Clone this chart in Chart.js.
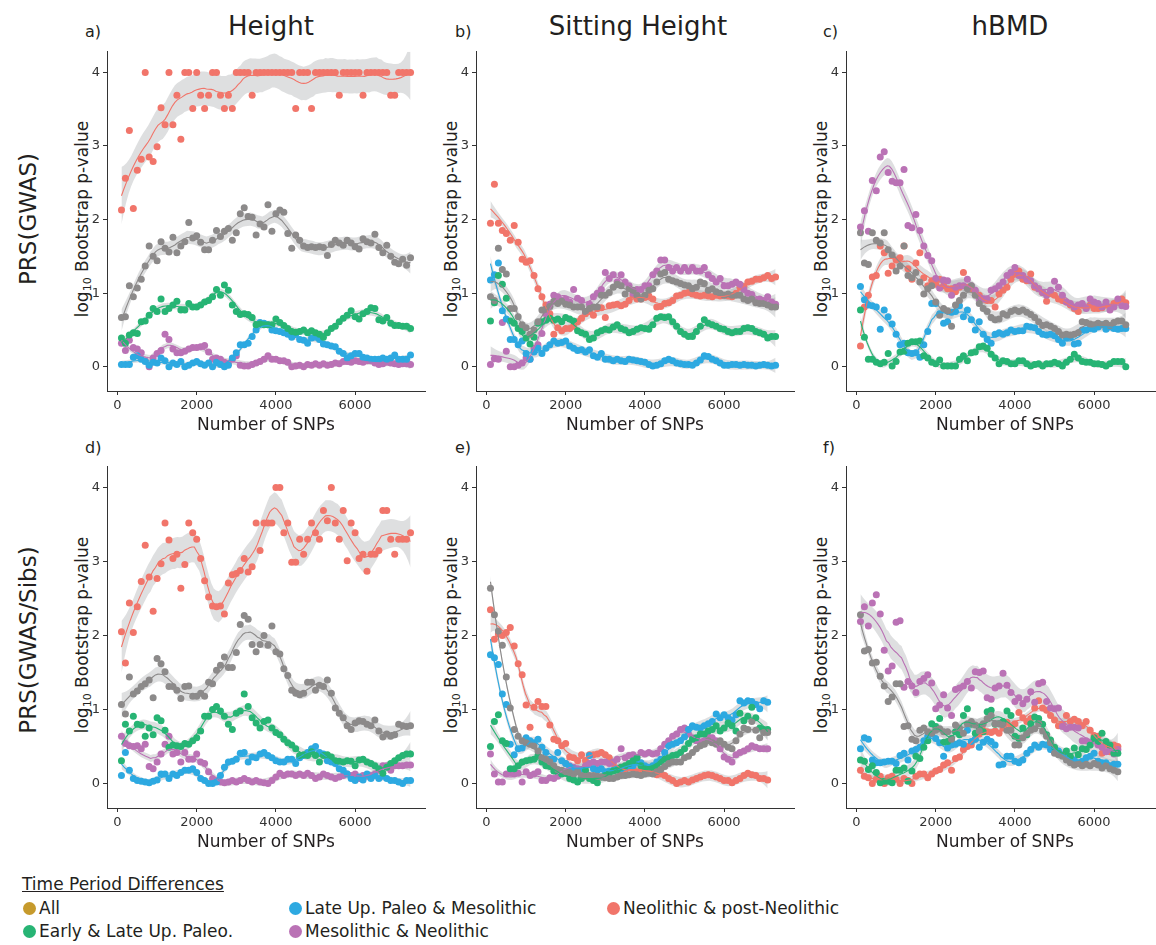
<!DOCTYPE html>
<html>
<head>
<meta charset="utf-8">
<script src="https://cdn.jsdelivr.net/npm/chart.js@4.4.1/dist/chart.umd.min.js"></script>
<style>
body{margin:0;width:1156px;height:945px;overflow:hidden;background:#fff;position:relative;
  font-family:"DejaVu Sans",sans-serif;color:#231f20}
canvas{position:absolute}
.t{position:absolute;white-space:nowrap}
.rot{transform:rotate(-90deg);text-align:center}
.ytitle{width:260px;height:22px;line-height:22px;font-size:17px}
.ytitle sub{font-size:11px;vertical-align:-3px}
.row{width:300px;height:30px;line-height:30px;font-size:23px}
.ptitle{width:240px;text-align:center;font-size:26px;top:11px;line-height:30px}
.letter{font-size:16px;line-height:19px}
.dot{position:absolute;width:13px;height:13px;border-radius:50%}
.leg{position:absolute;font-size:17px;line-height:20px;white-space:nowrap}
</style>
</head>
<body>
<div class="t ptitle" style="left:151px">Height</div>
<div class="t ptitle" style="left:518px">Sitting Height</div>
<div class="t ptitle" style="left:890px">hBMD</div>

<div class="t rot row" style="left:-122px;top:204px">PRS(GWAS)</div>
<div class="t rot row" style="left:-122px;top:625px">PRS(GWAS/Sibs)</div>

<div class="t letter" style="left:85px;top:22px">a)</div>
<div class="t letter" style="left:455px;top:22px">b)</div>
<div class="t letter" style="left:823px;top:22px">c)</div>
<div class="t letter" style="left:85px;top:438px">d)</div>
<div class="t letter" style="left:455px;top:438px">e)</div>
<div class="t letter" style="left:823px;top:438px">f)</div>

<div class="t rot ytitle" style="left:-48px;top:208px">log<sub>10</sub> Bootstrap p-value</div>
<div class="t rot ytitle" style="left:321px;top:208px">log<sub>10</sub> Bootstrap p-value</div>
<div class="t rot ytitle" style="left:691px;top:208px">log<sub>10</sub> Bootstrap p-value</div>
<div class="t rot ytitle" style="left:-48px;top:624px">log<sub>10</sub> Bootstrap p-value</div>
<div class="t rot ytitle" style="left:321px;top:624px">log<sub>10</sub> Bootstrap p-value</div>
<div class="t rot ytitle" style="left:691px;top:624px">log<sub>10</sub> Bootstrap p-value</div>

<canvas id="pa"></canvas><canvas id="pb"></canvas><canvas id="pc"></canvas>
<canvas id="pd"></canvas><canvas id="pe"></canvas><canvas id="pf"></canvas>

<div class="leg" style="left:22px;top:874px;text-decoration:underline">Time Period Differences</div>
<div id="legend"></div>

<script>
// number of SNPs on the x axis
const snps = [
  100,200,300,400,500,600,700,800,900,1000,
  1100,1200,1300,1400,1500,1600,1700,1800,1900,2000,
  2100,2200,2300,2400,2500,2600,2700,2800,2900,3000,
  3100,3200,3300,3400,3500,3600,3700,3800,3900,4000,
  4100,4200,4300,4400,4500,4600,4700,4800,4900,5000,
  5100,5200,5300,5400,5500,5600,5700,5800,5900,6000,
  6100,6200,6300,6400,6500,6600,6700,6800,6900,7000,
  7100,7200,7300,7400
];
const xTicks = [0, 2000, 4000, 6000];
const yTicks = [0, 1, 2, 3, 4];

const groups = ["All", "Early & Late Up. Paleo.", "Late Up. Paleo & Mesolithic", "Mesolithic & Neolithic", "Neolithic & post-Neolithic"];

// a) Height, PRS(GWAS)
const heightAll = [
  0.67,0.68,1.10,0.95,1.07,1.19,1.37,1.64,1.50,1.44,
  1.70,1.61,1.56,1.76,1.55,1.64,1.70,1.96,1.75,1.78,
  1.69,1.59,1.59,1.72,1.85,1.77,1.84,1.88,1.72,1.82,
  2.08,2.16,2.04,2.03,1.79,1.94,1.90,2.20,1.84,2.08,
  2.13,2.10,1.81,1.61,1.79,1.72,1.64,1.62,1.63,1.62,
  1.63,1.62,1.51,1.66,1.72,1.68,1.65,1.72,1.68,1.63,
  1.60,1.74,1.70,1.68,1.80,1.62,1.55,1.65,1.50,1.42,
  1.40,1.46,1.38,1.48];
const heightEarly = [
  0.39,0.32,0.43,0.46,0.45,0.61,0.62,0.70,0.79,0.75,
  0.92,0.75,0.79,0.84,0.89,0.77,0.77,0.86,0.81,0.81,
  0.84,0.88,0.90,0.95,1.05,0.97,1.11,1.04,0.84,0.75,
  0.71,0.72,0.71,0.67,0.57,0.58,0.57,0.57,0.57,0.65,
  0.60,0.56,0.52,0.48,0.47,0.48,0.50,0.46,0.49,0.46,
  0.44,0.40,0.46,0.52,0.55,0.61,0.66,0.70,0.76,0.68,
  0.65,0.72,0.75,0.80,0.79,0.64,0.62,0.67,0.59,0.56,
  0.56,0.55,0.55,0.52];
const heightLate = [
  0.03,0.03,0.03,0.13,0.15,0.10,0.07,0.02,0.06,0.05,
  0.12,0.08,0.00,0.05,0.03,0.07,0.00,0.02,0.05,0.07,
  0.04,0.02,0.05,0.00,0.06,0.03,0.00,0.02,0.12,0.19,
  0.30,0.30,0.32,0.41,0.50,0.60,0.59,0.57,0.50,0.49,
  0.48,0.46,0.44,0.40,0.44,0.37,0.36,0.32,0.39,0.41,
  0.37,0.31,0.30,0.28,0.27,0.21,0.18,0.12,0.15,0.18,
  0.18,0.13,0.12,0.10,0.10,0.10,0.12,0.10,0.12,0.16,
  0.10,0.10,0.10,0.16];
const heightMeso = [
  0.32,0.22,0.36,0.26,0.24,0.19,0.08,0.00,0.12,0.18,
  0.22,0.44,0.37,0.24,0.19,0.19,0.21,0.24,0.26,0.26,
  0.27,0.29,0.20,0.10,0.12,0.10,0.06,0.04,0.10,0.15,
  0.02,0.01,0.01,0.03,0.05,0.07,0.10,0.15,0.10,0.10,
  0.08,0.08,0.06,0.00,0.01,0.02,0.00,0.03,0.02,0.04,
  0.02,0.04,0.02,0.03,0.05,0.04,0.07,0.07,0.06,0.08,
  0.07,0.06,0.08,0.08,0.05,0.03,0.04,0.06,0.05,0.04,
  0.03,0.04,0.04,0.03];
const heightNeo = [
  2.13,2.56,3.21,2.15,2.67,2.82,4.00,2.85,2.79,2.99,
  3.52,3.29,4.00,3.29,3.69,3.09,4.00,4.00,3.51,4.00,
  3.69,3.51,3.69,4.00,4.00,3.69,3.51,3.69,3.51,4.00,
  4.00,4.00,4.00,3.69,4.00,4.00,4.00,4.00,4.00,4.00,
  4.00,4.00,4.00,4.00,3.51,4.00,4.00,4.00,3.51,4.00,
  4.00,4.00,4.00,4.00,4.00,3.69,4.00,4.00,4.00,4.00,
  4.00,3.69,4.00,4.00,4.00,4.00,4.00,4.00,3.69,3.69,
  4.00,4.00,4.00,4.00];

// b) Sitting Height, PRS(GWAS)
const sittingAll = [
  0.95,0.90,1.61,1.32,1.26,0.79,0.79,0.68,0.57,0.53,
  0.44,0.50,0.61,0.77,0.78,0.82,0.89,0.86,0.89,0.85,
  0.84,0.81,0.81,0.81,0.75,0.79,0.81,0.81,0.97,0.97,
  1.01,1.08,1.12,1.10,0.99,1.06,1.04,0.97,0.92,0.97,
  1.04,1.06,1.15,1.26,1.28,1.19,1.17,1.15,1.13,1.11,
  1.10,1.06,1.08,1.15,1.13,1.04,1.06,1.02,1.00,0.97,
  0.99,0.97,0.97,0.97,0.92,0.90,0.92,0.87,0.86,0.86,
  0.84,0.81,0.81];
const sittingEarly = [
  0.62,0.87,1.24,1.12,0.93,0.62,0.59,0.52,0.48,0.39,
  0.31,0.40,0.59,0.61,0.63,0.66,0.63,0.65,0.61,0.67,
  0.65,0.62,0.49,0.46,0.44,0.37,0.39,0.46,0.49,0.51,
  0.50,0.54,0.57,0.52,0.50,0.46,0.48,0.51,0.53,0.52,
  0.51,0.57,0.66,0.68,0.67,0.68,0.61,0.55,0.48,0.44,
  0.41,0.41,0.48,0.55,0.64,0.59,0.57,0.55,0.52,0.51,
  0.48,0.46,0.48,0.48,0.52,0.53,0.52,0.48,0.46,0.44,
  0.39,0.41,0.41];
const sittingLate = [
  1.18,1.25,1.41,0.76,0.65,0.37,0.37,0.30,0.35,0.18,
  0.10,0.20,0.25,0.18,0.25,0.30,0.35,0.32,0.33,0.35,
  0.28,0.25,0.22,0.23,0.20,0.23,0.15,0.13,0.18,0.10,
  0.10,0.08,0.10,0.08,0.07,0.10,0.09,0.08,0.07,0.06,
  0.03,0.01,0.02,0.04,0.08,0.10,0.08,0.05,0.04,0.03,
  0.03,0.02,0.05,0.09,0.15,0.14,0.10,0.08,0.05,0.02,
  0.02,0.03,0.03,0.02,0.03,0.02,0.02,0.01,0.02,0.03,
  0.02,0.01,0.02];
const sittingMeso = [
  0.03,0.11,0.10,0.60,0.21,0.00,0.00,0.02,0.05,0.12,
  0.10,0.25,0.30,0.45,0.72,0.85,0.97,0.95,0.90,0.92,
  0.88,1.05,0.93,0.90,0.75,0.85,0.95,1.00,1.05,1.28,
  1.20,1.25,1.15,1.25,1.15,1.10,1.00,1.05,1.05,1.10,
  1.10,1.25,1.30,1.45,1.45,1.35,1.30,1.35,1.30,1.35,
  1.30,1.35,1.30,1.30,1.35,1.25,1.20,1.15,1.20,1.10,
  1.10,1.12,1.15,1.12,1.05,1.00,0.98,0.90,0.92,0.90,
  0.95,0.88,0.85];
const sittingNeo = [
  1.95,2.48,1.95,1.85,1.81,1.72,1.92,1.69,1.46,1.42,
  1.44,1.24,1.06,0.95,0.84,0.72,0.44,0.53,0.49,0.52,
  0.52,0.55,0.61,0.66,0.72,0.75,0.70,0.79,0.80,0.67,
  0.83,0.84,0.85,0.83,0.85,0.90,0.97,0.92,0.92,0.94,
  0.96,0.92,0.81,0.82,0.86,0.87,0.90,0.96,0.97,1.00,
  1.01,0.99,0.97,0.96,0.97,0.96,0.95,0.97,0.96,0.97,
  0.96,0.95,1.00,1.08,1.09,1.15,1.16,1.19,1.19,1.21,
  1.24,1.20,1.22];

// c) hBMD, PRS(GWAS)
const bmdAll = [
  1.82,1.41,1.39,1.82,1.72,1.68,1.82,1.59,1.52,1.30,
  1.37,1.64,1.24,1.21,1.28,1.15,0.99,1.06,1.10,0.88,
  0.70,0.79,0.76,0.55,0.84,0.90,0.97,1.06,1.10,0.97,
  0.86,0.79,0.75,0.67,0.64,0.65,0.72,0.70,0.75,0.77,
  0.75,0.77,0.74,0.71,0.67,0.61,0.56,0.57,0.55,0.52,
  0.48,0.43,0.44,0.43,0.44,0.46,0.61,0.60,0.58,0.57,
  0.59,0.57,0.59,0.56,0.60,0.62,0.62,0.57];
const bmdEarly = [
  0.77,0.40,0.10,0.10,0.06,0.04,0.06,0.18,0.01,0.07,
  0.20,0.21,0.32,0.34,0.34,0.35,0.15,0.12,0.06,0.04,
  0.09,0.01,0.01,0.01,0.01,0.10,0.15,0.08,0.19,0.20,
  0.27,0.28,0.25,0.17,0.12,0.04,0.08,0.07,0.04,0.04,
  0.08,0.08,0.04,0.01,0.03,0.04,0.01,0.04,0.04,0.06,
  0.04,0.01,0.06,0.10,0.17,0.12,0.07,0.06,0.06,0.04,
  0.04,0.03,0.01,0.04,0.07,0.07,0.07,0.00];
const bmdLate = [
  1.09,0.91,0.84,0.83,0.81,0.51,0.77,0.68,0.58,0.44,
  0.30,0.32,0.19,0.18,0.19,0.13,0.30,0.48,0.86,0.86,
  0.72,0.59,0.61,0.74,0.75,0.83,0.68,0.77,0.64,0.50,
  0.61,0.44,0.37,0.32,0.44,0.46,0.44,0.46,0.50,0.48,
  0.49,0.49,0.55,0.54,0.53,0.48,0.44,0.43,0.44,0.42,
  0.37,0.32,0.39,0.40,0.31,0.32,0.50,0.50,0.52,0.51,
  0.54,0.57,0.51,0.54,0.52,0.51,0.52,0.52];
const bmdMeso = [
  1.90,2.12,1.84,2.53,2.39,2.85,2.92,2.64,2.52,2.50,
  2.50,2.68,1.92,1.89,2.07,1.85,1.64,1.51,1.44,1.20,
  1.07,1.18,1.17,0.97,1.08,1.10,1.10,1.19,1.10,1.04,
  0.92,0.92,0.92,1.04,1.06,1.10,1.15,1.24,1.28,1.35,
  1.24,1.24,1.19,1.17,1.10,1.06,1.01,0.97,1.04,1.16,
  1.08,0.97,0.88,0.86,0.81,0.84,0.86,0.79,0.92,0.88,
  0.86,0.81,0.88,0.77,0.81,0.92,0.83,0.82];
const bmdNeo = [
  0.28,0.81,0.97,1.22,1.24,1.64,1.55,1.27,1.37,1.45,
  1.48,1.64,1.33,1.19,1.41,1.55,1.21,1.10,1.17,1.12,
  1.19,1.10,1.06,1.06,1.02,1.08,1.28,1.08,1.06,1.01,
  0.97,0.92,0.90,0.90,0.81,0.99,1.04,1.08,1.19,1.26,
  1.30,1.19,1.17,1.26,1.08,1.06,1.01,0.89,1.01,0.97,
  0.92,0.90,0.88,0.84,0.79,0.75,0.84,0.80,0.84,0.79,
  0.79,0.80,0.84,0.81,0.86,0.89,0.92,0.87];

// d) Height, PRS(GWAS/Sibs)
const heightSibAll = [
  1.07,0.94,1.44,1.21,1.25,1.31,1.35,1.40,1.16,1.69,
  1.62,1.51,1.31,1.31,1.26,1.15,1.31,1.32,1.18,1.18,
  1.22,1.18,1.37,1.35,1.53,1.60,1.71,1.57,1.57,1.77,
  2.15,2.27,2.22,1.88,1.78,1.88,2.00,1.87,2.13,1.78,
  1.75,1.55,1.46,1.26,1.22,1.20,1.22,1.37,1.37,1.26,
  1.33,1.31,1.40,1.22,1.02,0.95,0.89,0.78,0.73,0.82,
  0.85,0.84,0.80,0.78,0.86,0.71,0.63,0.67,0.64,0.66,
  0.80,0.78,0.77,0.78];
const heightSibEarly = [
  0.31,0.80,0.71,0.91,0.80,0.79,0.64,0.75,0.66,0.89,
  0.85,0.72,0.49,0.52,0.51,0.50,0.54,0.53,0.58,0.62,
  0.71,0.91,0.91,1.00,1.04,0.98,0.91,0.80,0.73,0.95,
  0.98,1.21,1.04,0.89,0.82,0.75,0.84,0.86,0.75,0.69,
  0.66,0.60,0.55,0.52,0.47,0.38,0.39,0.38,0.43,0.38,
  0.29,0.38,0.39,0.36,0.31,0.30,0.29,0.31,0.30,0.24,
  0.32,0.33,0.29,0.27,0.24,0.20,0.14,0.22,0.27,0.31,
  0.35,0.38,0.40,0.40];
const heightSibLate = [
  0.11,0.42,0.18,0.07,0.04,0.03,0.02,0.01,0.03,0.05,
  0.13,0.13,0.07,0.13,0.11,0.15,0.18,0.18,0.20,0.15,
  0.07,0.04,0.00,0.00,0.02,0.11,0.22,0.29,0.30,0.33,
  0.41,0.42,0.29,0.36,0.35,0.40,0.42,0.38,0.35,0.31,
  0.29,0.29,0.33,0.33,0.27,0.35,0.38,0.42,0.47,0.50,
  0.42,0.40,0.31,0.29,0.27,0.20,0.18,0.13,0.07,0.04,
  0.09,0.05,0.13,0.07,0.11,0.07,0.10,0.07,0.04,0.04,
  0.02,0.00,0.04,0.04];
const heightSibMeso = [
  0.64,0.54,0.51,0.50,0.51,0.47,0.53,0.23,0.20,0.29,
  0.40,0.53,0.64,0.40,0.42,0.29,0.42,0.33,0.33,0.40,
  0.29,0.27,0.16,0.07,0.04,0.02,0.01,0.02,0.04,0.02,
  0.04,0.07,0.04,0.02,0.04,0.02,0.01,0.00,0.04,0.09,
  0.14,0.11,0.13,0.13,0.11,0.13,0.11,0.14,0.11,0.07,
  0.09,0.13,0.11,0.09,0.07,0.09,0.11,0.13,0.11,0.13,
  0.07,0.11,0.10,0.11,0.13,0.18,0.24,0.24,0.18,0.24,
  0.24,0.24,0.25,0.25];
const heightSibNeo = [
  2.05,1.63,2.44,2.04,2.39,2.73,3.22,2.79,2.33,2.77,
  2.97,3.52,3.29,3.04,3.10,2.64,2.96,3.52,3.39,3.30,
  3.04,2.74,2.52,2.40,2.39,2.40,2.29,2.71,2.82,2.84,
  2.88,3.04,2.86,2.93,3.52,3.15,3.52,3.52,3.52,4.00,
  4.00,3.39,3.52,2.99,2.99,3.30,3.10,3.30,3.52,3.39,
  3.30,3.69,3.55,4.00,3.52,3.30,3.69,3.01,3.52,3.39,
  3.04,3.10,2.87,3.10,3.10,3.15,3.69,3.69,3.30,3.10,
  3.30,3.30,3.30,3.39];

// e) Sitting Height, PRS(GWAS/Sibs)
const sittingSibAll = [
  2.64,2.28,2.06,1.87,1.44,1.02,0.73,0.64,0.58,0.55,
  0.53,0.51,0.44,0.35,0.33,0.29,0.24,0.19,0.18,0.16,
  0.15,0.13,0.16,0.11,0.10,0.11,0.11,0.10,0.09,0.08,
  0.07,0.07,0.09,0.11,0.11,0.12,0.13,0.12,0.11,0.13,
  0.14,0.13,0.16,0.19,0.23,0.27,0.29,0.29,0.29,0.35,
  0.37,0.42,0.47,0.51,0.53,0.58,0.55,0.53,0.58,0.53,
  0.49,0.47,0.58,0.67,0.75,0.73,0.84,0.72,0.62,0.69,
  0.69];
const sittingSibEarly = [
  0.50,0.84,0.93,0.58,0.54,0.20,0.20,0.24,0.29,0.31,
  0.32,0.33,0.38,0.29,0.24,0.23,0.17,0.16,0.13,0.14,
  0.07,0.05,0.02,0.07,0.18,0.07,0.04,0.01,0.09,0.11,
  0.14,0.17,0.18,0.22,0.24,0.27,0.31,0.35,0.24,0.20,
  0.20,0.22,0.24,0.29,0.33,0.35,0.38,0.39,0.42,0.47,
  0.54,0.60,0.62,0.67,0.67,0.71,0.73,0.78,0.71,0.75,
  0.82,0.78,0.71,0.95,0.85,0.91,1.03,0.89,0.75,0.73,
  0.73];
const sittingSibLate = [
  1.74,1.70,1.61,1.21,1.07,0.53,0.39,0.47,0.48,0.62,
  0.58,0.55,0.60,0.49,0.42,0.33,0.33,0.42,0.31,0.27,
  0.23,0.20,0.18,0.19,0.14,0.38,0.20,0.18,0.20,0.16,
  0.17,0.18,0.20,0.20,0.22,0.24,0.24,0.29,0.28,0.24,
  0.22,0.24,0.29,0.33,0.42,0.51,0.53,0.55,0.58,0.63,
  0.73,0.78,0.76,0.75,0.78,0.81,0.84,0.94,0.89,0.93,
  0.89,0.86,0.93,1.12,1.09,1.12,1.11,1.07,1.01,1.12,
  1.10];
const sittingSibMeso = [
  0.40,0.13,0.02,0.02,0.13,0.14,0.13,0.14,0.02,0.16,
  0.11,0.13,0.16,0.04,0.04,0.08,0.07,0.10,0.16,0.27,
  0.24,0.22,0.20,0.18,0.24,0.27,0.29,0.27,0.29,0.29,
  0.27,0.29,0.33,0.47,0.35,0.38,0.39,0.35,0.42,0.40,
  0.42,0.40,0.41,0.47,0.53,0.58,0.64,0.67,0.73,0.75,
  0.67,0.62,0.58,0.55,0.58,0.63,0.62,0.58,0.47,0.36,
  0.33,0.29,0.39,0.42,0.44,0.47,0.51,0.49,0.47,0.47,
  0.47];
const sittingSibNeo = [
  2.35,1.95,2.02,2.00,2.04,2.11,1.86,1.62,1.47,1.06,
  0.76,1.03,1.11,1.04,1.04,0.79,0.60,0.58,0.51,0.54,
  0.36,0.35,0.31,0.39,0.31,0.39,0.39,0.40,0.42,0.39,
  0.35,0.27,0.20,0.16,0.19,0.22,0.20,0.16,0.17,0.18,
  0.19,0.16,0.12,0.13,0.11,0.07,0.04,0.00,0.02,0.04,
  0.02,0.05,0.07,0.09,0.11,0.12,0.11,0.09,0.07,0.04,
  0.04,0.01,0.04,0.07,0.11,0.14,0.12,0.11,0.07,0.07,
  0.05];

// f) hBMD, PRS(GWAS/Sibs)
const bmdSibAll = [
  2.28,1.79,1.81,1.63,1.64,1.45,1.32,1.11,1.17,1.35,
  1.35,0.77,0.78,0.60,0.58,0.72,0.75,0.70,0.68,0.72,
  0.74,0.70,0.70,0.60,0.79,0.75,0.68,0.81,0.84,0.79,
  0.71,0.81,0.88,0.92,0.81,0.81,0.79,0.72,0.72,0.52,
  0.52,0.62,0.68,0.72,0.74,0.81,0.71,0.64,0.55,0.41,
  0.39,0.37,0.32,0.28,0.25,0.27,0.24,0.26,0.24,0.27,
  0.25,0.21,0.24,0.20,0.18,0.16];
const bmdSibEarly = [
  0.32,0.30,0.19,0.24,0.15,0.01,0.03,0.03,0.01,0.18,
  0.18,0.21,0.03,0.17,0.37,0.34,0.49,0.58,0.81,0.77,
  0.88,0.56,0.57,0.61,0.70,0.66,0.92,1.01,0.80,0.68,
  0.75,0.70,0.97,0.99,0.80,0.81,0.84,0.98,0.92,0.64,
  0.61,0.75,0.66,0.81,0.90,0.88,0.80,0.66,0.59,0.49,
  0.41,0.38,0.44,0.37,0.48,0.39,0.47,0.46,0.52,0.62,
  0.57,0.68,0.57,0.52,0.41,0.41];
const bmdSibLate = [
  0.47,0.62,0.60,0.32,0.28,0.28,0.29,0.30,0.30,0.27,
  0.38,0.41,0.32,0.44,0.46,0.49,0.58,0.64,0.67,0.61,
  0.55,0.37,0.48,0.52,0.53,0.55,0.53,0.72,0.57,0.60,
  0.49,0.56,0.60,0.57,0.52,0.25,0.26,0.37,0.37,0.30,
  0.28,0.32,0.41,0.46,0.52,0.49,0.53,0.52,0.46,0.48,
  0.44,0.39,0.36,0.34,0.32,0.28,0.30,0.35,0.37,0.41,
  0.30,0.28,0.28,0.24,0.26,0.26];
const bmdSibMeso = [
  2.19,2.39,2.13,2.44,2.55,2.29,1.80,1.52,1.59,2.18,
  2.20,1.30,1.38,1.32,1.23,1.38,1.42,1.47,1.36,1.01,
  1.06,1.20,1.02,0.92,1.27,1.29,1.32,1.38,1.29,1.51,
  1.50,1.52,1.16,1.14,1.29,1.32,1.49,1.33,1.23,1.11,
  1.16,1.08,1.14,1.24,1.10,1.35,1.37,1.11,1.02,1.01,
  1.02,0.77,0.74,0.76,0.76,0.75,0.58,0.58,0.56,0.60,
  0.52,0.49,0.43,0.46,0.40,0.46];
const bmdSibNeo = [
  0.18,0.10,0.08,0.00,0.06,0.10,0.00,0.08,0.10,0.06,
  0.00,0.07,0.04,0.00,0.10,0.13,0.13,0.08,0.13,0.17,
  0.19,0.25,0.28,0.18,0.34,0.36,0.46,0.50,0.52,0.60,
  0.67,0.72,0.70,0.69,0.71,0.68,0.75,0.83,0.76,0.81,
  0.96,0.89,0.84,0.88,1.02,1.12,1.02,0.99,0.92,0.86,
  0.78,0.80,0.92,0.84,0.87,0.84,0.78,0.84,0.72,0.65,
  0.64,0.41,0.52,0.43,0.52,0.50];

// colours: points of "All" are grey, its legend key is gold
const pointColors = ["#8c8a8a", "#27b474", "#2da9e1", "#ba72b5", "#f1756a"];
const legendColors = ["#c69a2c", "#27b474", "#2da9e1", "#ba72b5", "#f1756a"];
const bandColor = "rgba(160,162,166,0.35)";
const FONT = "DejaVu Sans";

Chart.defaults.font.family = FONT;

// local quadratic loess with tricube weights, like geom_smooth(method = "loess")
function loess(xs, ys, span, nGrid) {
  const n = xs.length;
  const q = Math.min(n, Math.max(5, Math.ceil(span * n)));
  function kernel(x0) {
    const d = xs.map(x => Math.abs(x - x0));
    const h = d.slice().sort((a, b) => a - b)[q - 1] * 1.0001 || 1;
    const w = [], u = [];
    const S = [0, 0, 0, 0, 0];
    for (let i = 0; i < n; i++) {
      const r = d[i] / h;
      w[i] = r < 1 ? Math.pow(1 - r * r * r, 3) : 0;
      u[i] = (xs[i] - x0) / h;
      for (let k = 0; k < 5; k++) S[k] += w[i] * Math.pow(u[i], k);
    }
    const a = S[0], b = S[1], c = S[2], e = S[2], f = S[3], i2 = S[4];
    const c00 = e * i2 - f * f, c10 = -(b * i2 - c * f), c20 = b * f - c * e;
    const det = a * c00 + b * c10 + c * c20;
    const l = [];
    for (let i = 0; i < n; i++) {
      l[i] = w[i] * (c00 + c10 * u[i] + c20 * u[i] * u[i]) / det;
    }
    return l;
  }
  let rss = 0, tr = 0;
  for (let i = 0; i < n; i++) {
    const l = kernel(xs[i]);
    let fit = 0;
    for (let j = 0; j < n; j++) fit += l[j] * ys[j];
    rss += (ys[i] - fit) * (ys[i] - fit);
    tr += l[i];
  }
  const sigma = Math.sqrt(rss / Math.max(1, n - tr));
  const out = { fit: [], lo: [], hi: [] };
  for (let g = 0; g < nGrid; g++) {
    const x0 = xs[0] + (xs[n - 1] - xs[0]) * g / (nGrid - 1);
    const l = kernel(x0);
    let fit = 0, ss = 0;
    for (let j = 0; j < n; j++) { fit += l[j] * ys[j]; ss += l[j] * l[j]; }
    const se = 2.0 * sigma * Math.sqrt(ss);
    out.fit.push({ x: x0, y: fit });
    out.lo.push({ x: x0, y: fit - se });
    out.hi.push({ x: x0, y: fit + se });
  }
  return out;
}

function fixedTicks(values) {
  return scale => { scale.ticks = values.map(v => ({ value: v })); };
}

function drawPanel(id, left, top, plotH, series) {
  const plotW = 318, yAxisW = 45, xAxisH = 50, padTop = 6, padRight = 12;
  const cv = document.getElementById(id);
  cv.width = plotW + yAxisW + padRight;
  cv.height = plotH + padTop + xAxisH;
  cv.style.left = (left - yAxisW) + "px";
  cv.style.top = (top - padTop) + "px";

  const bands = [], points = [], lines = [];
  series.forEach((ys, k) => {
    const xs = snps.slice(0, ys.length);
    const sm = loess(xs, ys, 0.21, 120);
    bands.push({ data: sm.hi, borderWidth: 0, borderColor: "rgba(0,0,0,0)", pointRadius: 0,
                 fill: "+1", backgroundColor: bandColor, order: 3 });
    bands.push({ data: sm.lo, borderWidth: 0, borderColor: "rgba(0,0,0,0)", pointRadius: 0,
                 fill: false, order: 3 });
    points.push({ data: xs.map((x, i) => ({ x: x, y: ys[i] })), showLine: false,
                  pointRadius: 3.5, pointBorderWidth: 0, pointBackgroundColor: pointColors[k],
                  order: 2 });
    lines.push({ data: sm.fit, borderColor: pointColors[k], borderWidth: 1.1, pointRadius: 0,
                 fill: false, order: 1 });
  });

  const tickFont = { size: 13, family: FONT };
  new Chart(cv, {
    type: "line",
    data: { datasets: bands.concat(points, lines) },
    options: {
      responsive: false,
      animation: false,
      devicePixelRatio: 1,
      layout: { padding: { top: padTop, right: padRight, left: 0, bottom: 0 } },
      plugins: { legend: { display: false }, tooltip: { enabled: false } },
      scales: {
        x: {
          type: "linear", min: -265, max: 7765,
          afterBuildTicks: fixedTicks(xTicks),
          afterFit: s => { s.height = xAxisH; },
          ticks: { font: tickFont, color: "#333", padding: 3, maxRotation: 0, callback: v => String(v) },
          grid: { drawOnChartArea: false, drawTicks: true, tickLength: 4, color: "#333" },
          border: { display: true, color: "#333", width: 1 },
          title: { display: true, text: "Number of SNPs", color: "#231f20",
                   font: { size: 17, family: FONT }, padding: { top: 0, bottom: 5 } }
        },
        y: {
          min: -0.33, max: 4.28,
          afterBuildTicks: fixedTicks(yTicks),
          afterFit: s => { s.width = yAxisW; },
          ticks: { font: tickFont, color: "#333", padding: 3, callback: v => String(v) },
          grid: { drawOnChartArea: false, drawTicks: true, tickLength: 4, color: "#333" },
          border: { display: true, color: "#333", width: 1 }
        }
      }
    }
  });
}

drawPanel("pa", 107, 47, 344, [heightAll, heightEarly, heightLate, heightMeso, heightNeo]);
drawPanel("pb", 476, 47, 344, [sittingAll, sittingEarly, sittingLate, sittingMeso, sittingNeo]);
drawPanel("pc", 846, 47, 344, [bmdAll, bmdEarly, bmdLate, bmdMeso, bmdNeo]);
drawPanel("pd", 107, 462, 346, [heightSibAll, heightSibEarly, heightSibLate, heightSibMeso, heightSibNeo]);
drawPanel("pe", 476, 462, 346, [sittingSibAll, sittingSibEarly, sittingSibLate, sittingSibMeso, sittingSibNeo]);
drawPanel("pf", 846, 462, 346, [bmdSibAll, bmdSibEarly, bmdSibLate, bmdSibMeso, bmdSibNeo]);

// legend
const legendPos = [[29, 908], [29, 931], [295, 908], [295, 931], [613, 908]];
const legendBox = document.getElementById("legend");
groups.forEach((g, k) => {
  const [cx, cy] = legendPos[k];
  const dot = document.createElement("div");
  dot.className = "dot";
  dot.style.left = (cx - 6.5) + "px";
  dot.style.top = (cy - 6.5) + "px";
  dot.style.background = legendColors[k];
  legendBox.appendChild(dot);
  const lab = document.createElement("div");
  lab.className = "leg";
  lab.style.left = (cx + 10) + "px";
  lab.style.top = (cy - 10) + "px";
  lab.textContent = g;
  legendBox.appendChild(lab);
});
</script>
</body>
</html>
